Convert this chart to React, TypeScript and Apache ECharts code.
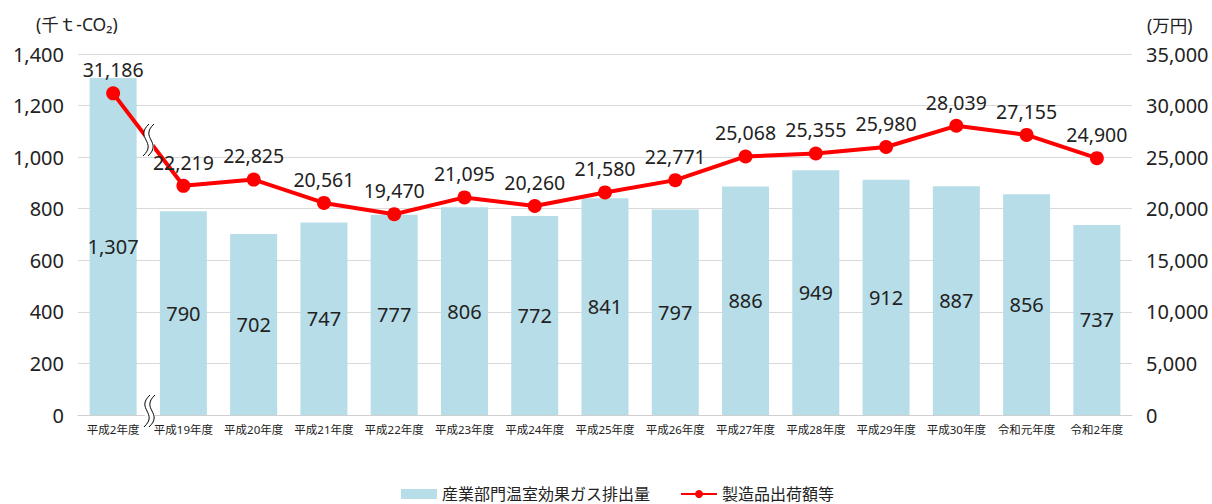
import React, { useEffect, useRef } from "react";
import * as echarts from "echarts";

const categories = ["平成2年度", "平成19年度", "平成20年度", "平成21年度", "平成22年度", "平成23年度", "平成24年度", "平成25年度", "平成26年度", "平成27年度", "平成28年度", "平成29年度", "平成30年度", "令和元年度", "令和2年度"];
const emissions = [1307, 790, 702, 747, 777, 806, 772, 841, 797, 886, 949, 912, 887, 856, 737];
const shipments = [31186, 22219, 22825, 20561, 19470, 21095, 20260, 21580, 22771, 25068, 25355, 25980, 28039, 27155, 24900];
const barName = "産業部門温室効果ガス排出量";
const lineName = "製造品出荷額等";

const FONT = "'Noto Sans', 'Noto Sans CJK JP', sans-serif";
const fmt = (v: number) => v.toLocaleString("en-US");

function breakMark(x: number, y: number) {
  const mk = (dx: number) => ({
    type: "bezierCurve",
    shape: { x1: x + dx + 3, y1: y - 16, x2: x + dx - 3, y2: y + 16, cpx1: x + dx - 12, cpy1: y - 2, cpx2: x + dx + 12, cpy2: y + 2 },
    style: { stroke: "#000", lineWidth: 1, fill: null },
    z: 100,
  });
  return [
    { type: "rect", shape: { x: x - 4, y: y - 14, width: 10, height: 28 }, style: { fill: "#fff" }, z: 99 },
    mk(-2), mk(3),
  ];
}

export default function App() {
  const ref = useRef<HTMLDivElement>(null);
  useEffect(() => {
    if (!ref.current) return;
    const chart = echarts.init(ref.current, undefined, { renderer: "svg" });
    chart.setOption({
      animation: false,
      textStyle: { fontFamily: FONT },
      grid: { left: 78, right: 80, top: 54, bottom: 89, containLabel: false },
      legend: {
        top: 481,
        left: 396,
        itemGap: 30,
        textStyle: { fontSize: 16, color: "#222", fontFamily: FONT },
        data: [
          { name: barName, icon: "rect" },
          { name: lineName },
        ],
        itemWidth: 36,
        itemHeight: 10,
      },
      xAxis: {
        type: "category",
        data: categories,
        axisTick: { show: false },
        axisLine: { lineStyle: { color: "#d0d0d0" } },
        axisLabel: { fontSize: 11.5, color: "#222", interval: 0, margin: 9 },
      },
      yAxis: [
        {
          type: "value",
          min: 0, max: 1400, interval: 200,
          axisLabel: { fontSize: 20, color: "#222", formatter: (v: number) => fmt(v), margin: 14 },
          splitLine: { lineStyle: { color: "#d9d9d9" } },
        },
        {
          type: "value",
          min: 0, max: 35000, interval: 5000,
          position: "right",
          axisLabel: { fontSize: 20, color: "#222", formatter: (v: number) => fmt(v), margin: 14 },
          splitLine: { show: false },
        },
      ],
      series: [
        {
          name: barName,
          type: "bar",
          data: emissions,
          barWidth: 47,
          itemStyle: { color: "#b7dde8" },
          label: { show: true, position: "inside", fontSize: 20, color: "#222", formatter: (p: any) => fmt(p.value) },
        },
        {
          name: lineName,
          type: "line",
          yAxisIndex: 1,
          data: shipments,
          symbol: "circle",
          symbolSize: 14,
          lineStyle: { color: "#ff0000", width: 4 },
          itemStyle: { color: "#ff0000" },
          label: { show: true, position: "top", distance: 7, fontSize: 19.5, color: "#222", formatter: (p: any) => fmt(p.value) },
          z: 5,
        },
      ],
      graphic: [
        { type: "text", left: 36, top: 15, style: { text: "(千ｔ-CO₂)", fontSize: 17.5, fill: "#222", fontFamily: FONT } },
        { type: "text", left: 1147, top: 16, style: { text: "(万円)", fontSize: 17.5, fill: "#222", fontFamily: FONT } },
        ...breakMark(148, 140),
        ...breakMark(149, 411),
      ],
    });
    return () => chart.dispose();
  }, []);
  return <div ref={ref} style={{ position: "absolute", left: 0, top: 0, width: 1212, height: 504 }} />;
}
